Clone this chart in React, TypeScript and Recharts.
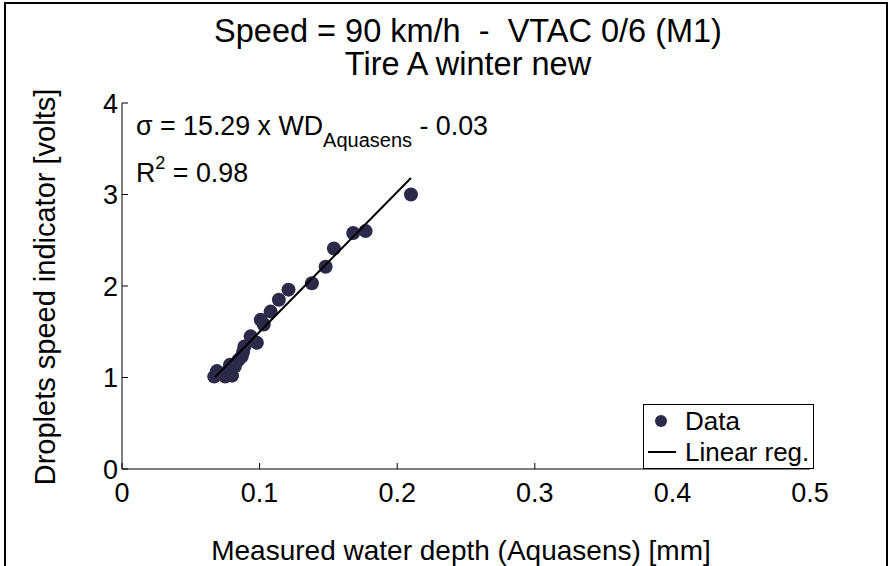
import React from "react";
import { ScatterChart, Scatter, XAxis, YAxis, Customized } from "recharts";

const depthMm = [
  0.067, 0.069, 0.075, 0.0775, 0.0785, 0.08, 0.082, 0.0846, 0.087, 0.088,
  0.089, 0.0935, 0.098, 0.1008, 0.103, 0.108, 0.114, 0.121, 0.138, 0.148,
  0.154, 0.168, 0.177, 0.21,
];
const dropletVolts = [
  1.01, 1.07, 1.01, 1.08, 1.14, 1.02, 1.12, 1.19, 1.23, 1.28,
  1.34, 1.45, 1.38, 1.63, 1.58, 1.72, 1.85, 1.96, 2.03, 2.21,
  2.41, 2.58, 2.6, 3.0,
];

const slope = 15.29;
const intercept = -0.03;
const rSquared = 0.98;
const regRange = [0.0676, 0.21];

const xTicks = [0, 0.1, 0.2, 0.3, 0.4, 0.5];
const yTicks = [0, 1, 2, 3, 4];

const titleLines = ["Speed = 90 km/h\u00a0 -\u00a0 VTAC 0/6 (M1)", "Tire A winter new"];

const FONT = "'Liberation Sans', Arial, sans-serif";
const DOT = "#2b2a48";

const points = depthMm.map((x, i) => ({ x, y: dropletVolts[i] }));
const regLine = regRange.map((x) => ({ x, y: slope * x + intercept }));

const Dot = (props: any) => (
  <circle cx={props.cx} cy={props.cy} r={7} fill={DOT} />
);

const LegendBox = () => (
  <div
    style={{
      position: "absolute",
      left: 643,
      top: 404,
      width: 171,
      height: 65,
      border: "1px solid #000",
      background: "#fff",
      fontFamily: FONT,
      fontSize: 26,
      lineHeight: "30px",
      color: "#000",
      boxSizing: "border-box",
    }}
  >
    <div style={{ display: "flex", alignItems: "center", height: 31 }}>
      <svg width={41} height={20}>
        <circle cx={17} cy={10} r={6} fill={DOT} />
      </svg>
      <span>Data</span>
    </div>
    <div style={{ display: "flex", alignItems: "center", height: 31 }}>
      <svg width={41} height={20}>
        <line x1={4} x2={32} y1={10} y2={10} stroke="#000" strokeWidth={2} />
      </svg>
      <span>Linear reg.</span>
    </div>
  </div>
);

const Texts = () => (
  <g fontFamily={FONT} fill="#000">
    <rect x={5} y={3} width={882} height={570} fill="none" stroke="#000" strokeWidth={2} />
    <text x={468} y={42} fontSize={32.5} textAnchor="middle">
      {titleLines[0]}
    </text>
    <text x={468} y={75} fontSize={32.5} textAnchor="middle">
      {titleLines[1]}
    </text>
    <text x={136} y={135} fontSize={26.8}>
      σ = {slope.toFixed(2)} x WD
      <tspan fontSize={20} dy={12}>Aquasens</tspan>
      <tspan dy={-12}>{"\u00a0- " + Math.abs(intercept).toFixed(2)}</tspan>
    </text>
    <text x={136} y={182} fontSize={26.8}>
      R<tspan fontSize={18} dy={-13}>2</tspan>
      <tspan dy={13}>{"\u00a0= " + rSquared.toFixed(2)}</tspan>
    </text>
    <text
      x={55}
      y={287}
      fontSize={29}
      textAnchor="middle"
      transform="rotate(-90 55 287)"
    >
      Droplets speed indicator [volts]
    </text>
    <text x={461} y={560} fontSize={28} textAnchor="middle">
      Measured water depth (Aquasens) [mm]
    </text>
  </g>
);

export default function App() {
  return (
    <div style={{ position: "fixed", left: 0, top: 0, background: "#fff" }}>
      <ScatterChart
        width={891}
        height={566}
        margin={{ top: 103, right: 81, bottom: 67, left: 82 }}
      >
        <XAxis
          type="number"
          dataKey="x"
          domain={[0, 0.5]}
          ticks={xTicks}
          tickFormatter={(v: number) => String(v)}
          tickSize={-6}
          tickMargin={20}
          height={30}
          stroke="#000"
          tick={{ fill: "#000", fontSize: 27, fontFamily: FONT }}
          allowDataOverflow
        />
        <YAxis
          type="number"
          dataKey="y"
          domain={[0, 4]}
          ticks={yTicks}
          tickSize={-6}
          tickMargin={10}
          width={40}
          stroke="#000"
          tick={{ fill: "#000", fontSize: 27, fontFamily: FONT }}
          allowDataOverflow
        />
        <Customized component={Texts} />
        <Scatter data={points} shape={Dot} isAnimationActive={false} />
        <Scatter
          data={regLine}
          line={{ stroke: "#000", strokeWidth: 2 }}
          shape={() => <g />}
          isAnimationActive={false}
          legendType="none"
        />
      </ScatterChart>
      <LegendBox />
    </div>
  );
}
